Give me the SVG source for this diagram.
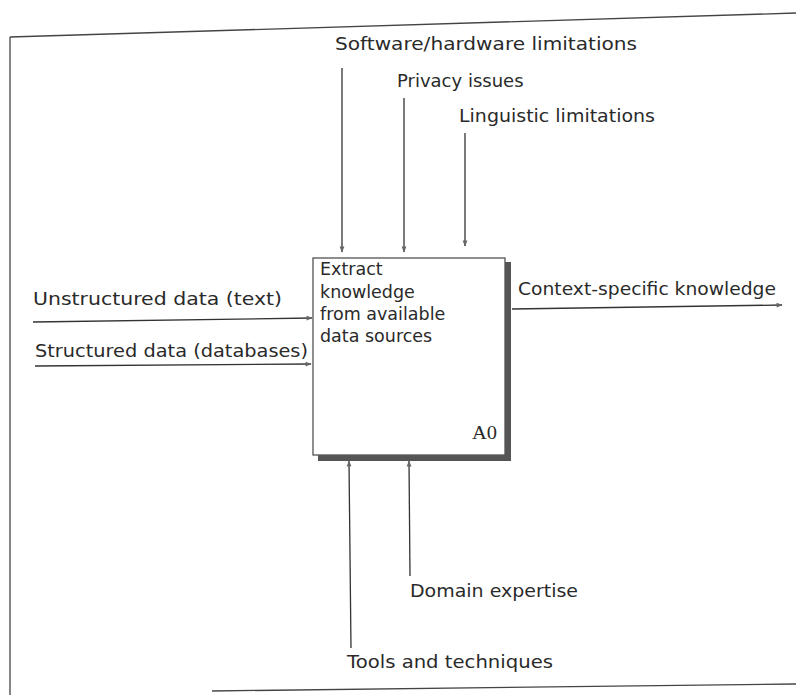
<svg xmlns="http://www.w3.org/2000/svg" width="796" height="695" viewBox="0 0 796 695">
<style>
text{font-family:"DejaVu Sans","Liberation Sans",sans-serif;font-size:18px;fill:#2a2a2a}
.bx{font-size:17.5px}
.ln{stroke:#333;stroke-width:1.3;fill:none}
.fr{stroke:#444;stroke-width:1.3;fill:none}
</style>
<defs>
<marker id="ah" viewBox="0 0 10 10" refX="9" refY="5" markerWidth="8" markerHeight="6" orient="auto" markerUnits="userSpaceOnUse">
<path d="M0,1 L10,5 L0,9 Z" fill="#666"/>
</marker>
</defs>
<rect width="796" height="695" fill="#fff"/>
<g id="frame">
<path class="fr" d="M10,37 L796,13"/>
<path class="fr" d="M10,37 L10,695"/>
<path class="fr" d="M212,691 L796,684"/>
</g>
<g id="process">
<rect x="313" y="258" width="192" height="197" fill="#fff" stroke="#444" stroke-width="1.2"/>
<rect x="505" y="262" width="6" height="199" fill="#555"/>
<rect x="318" y="455" width="193" height="6" fill="#555"/>
<text class="bx" x="320" y="275">Extract</text>
<text class="bx" x="320" y="298">knowledge</text>
<text class="bx" x="320" y="320">from available</text>
<text class="bx" x="320" y="342">data sources</text>
<text x="472" y="439" style="font-family:'Liberation Serif',serif;font-size:18px" textLength="25" lengthAdjust="spacingAndGlyphs">A0</text>
</g>
<g id="connectors">
<line class="ln" x1="342" y1="68" x2="342" y2="252" marker-end="url(#ah)"/>
<line class="ln" x1="404" y1="98" x2="404" y2="252" marker-end="url(#ah)"/>
<line class="ln" x1="465" y1="133" x2="465" y2="246" marker-end="url(#ah)"/>
<line class="ln" x1="33" y1="322" x2="312" y2="318" marker-end="url(#ah)"/>
<line class="ln" x1="35" y1="366" x2="311" y2="364" marker-end="url(#ah)"/>
<line class="ln" x1="512" y1="309" x2="782" y2="305" marker-end="url(#ah)"/>
<line class="ln" x1="351" y1="648" x2="349" y2="461" marker-end="url(#ah)"/>
<line class="ln" x1="410" y1="576" x2="409" y2="461" marker-end="url(#ah)"/>
</g>
<g id="labels">
<text x="335" y="50" textLength="302" lengthAdjust="spacingAndGlyphs">Software/hardware limitations</text>
<text x="397" y="87">Privacy issues</text>
<text x="459" y="122" textLength="196" lengthAdjust="spacingAndGlyphs">Linguistic limitations</text>
<text x="33" y="305" textLength="249" lengthAdjust="spacingAndGlyphs">Unstructured data (text)</text>
<text x="35" y="357" textLength="273" lengthAdjust="spacingAndGlyphs">Structured data (databases)</text>
<text x="518" y="295" textLength="258" lengthAdjust="spacingAndGlyphs">Context-specific knowledge</text>
<text x="410" y="597" textLength="168" lengthAdjust="spacingAndGlyphs">Domain expertise</text>
<text x="347" y="668" textLength="206" lengthAdjust="spacingAndGlyphs">Tools and techniques</text>
</g>
</svg>
